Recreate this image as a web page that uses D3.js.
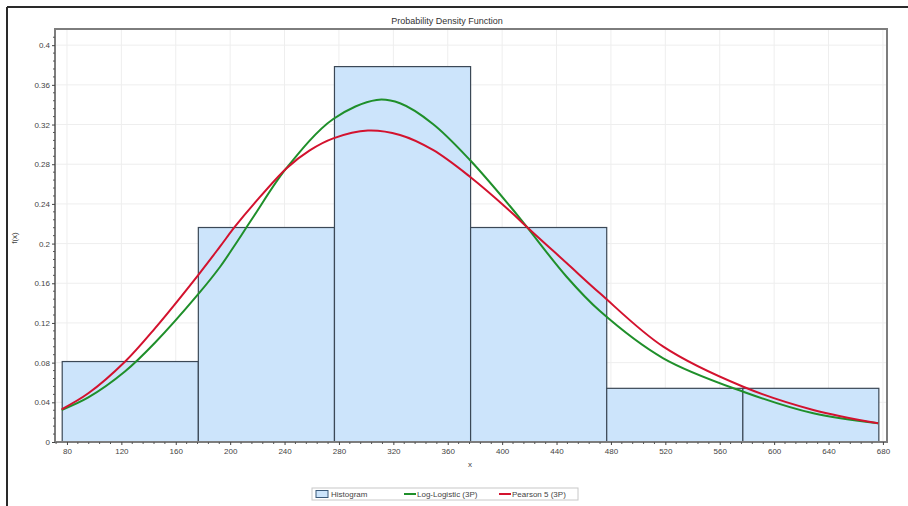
<!DOCTYPE html>
<html>
<head>
<meta charset="utf-8">
<script src="https://cdn.jsdelivr.net/npm/d3@7.9.0/dist/d3.min.js"></script>
<style>
  body { margin: 0; background: #fff; }
  svg { display: block; font-family: "Liberation Sans", Arial, sans-serif; }
</style>
</head>
<body>
<svg id="chart" width="908" height="506"></svg>
<script>
// histogram bins (relative frequency per bin)
const binEdges = [76.5, 176.6, 276.7, 376.8, 476.9, 577.0, 677.0];
const binFreq = [0.0811, 0.2162, 0.3784, 0.2162, 0.0541, 0.0541];

// fitted curves
const logLogX = [76.1, 95.7, 122.6, 144.7, 176.5, 192.5, 203.5, 217.5, 241.5, 275.8, 307.7, 324.9, 349.1, 376.3, 405.7, 418.0, 447.4, 471.9, 518.5, 577.3, 628.8, 676.5];
const logLogY = [0.0323, 0.0449, 0.0710, 0.1000, 0.1490, 0.1764, 0.1986, 0.2278, 0.2762, 0.3256, 0.3448, 0.3414, 0.3206, 0.2843, 0.2379, 0.2170, 0.1666, 0.1320, 0.0844, 0.0507, 0.0289, 0.0189];
const pearsonX = [76.1, 95.7, 122.6, 144.7, 176.5, 192.5, 203.5, 217.5, 241.5, 258.5, 275.8, 301.3, 324.9, 349.1, 376.3, 405.7, 418.0, 447.4, 471.9, 518.5, 577.3, 628.8, 676.5];
const pearsonY = [0.0330, 0.0491, 0.0809, 0.1146, 0.1683, 0.1969, 0.2170, 0.2400, 0.2760, 0.2940, 0.3061, 0.3140, 0.3095, 0.2944, 0.2674, 0.2329, 0.2170, 0.1804, 0.1499, 0.0961, 0.0557, 0.0323, 0.0189];

const xTicks = d3.range(80, 681, 40);
const yTicks = [0, 0.04, 0.08, 0.12, 0.16, 0.2, 0.24, 0.28, 0.32, 0.36, 0.4];
const yTickLabels = ["0", "0.04", "0.08", "0.12", "0.16", "0.2", "0.24", "0.28", "0.32", "0.36", "0.4"];

const svg = d3.select("#chart");
const plot = { left: 55, top: 29, right: 887, bottom: 442 };

const x = d3.scaleLinear().domain([71.2, 683]).range([plot.left, plot.right]);
const y = d3.scaleLinear().domain([0, 0.4163]).range([plot.bottom, plot.top]);

// outer frame (top + left edges visible)
svg.append("line").attr("x1", 7).attr("x2", 908).attr("y1", 7).attr("y2", 7)
  .attr("stroke", "#2a2a2a").attr("stroke-width", 2);
svg.append("line").attr("x1", 7).attr("x2", 7).attr("y1", 7).attr("y2", 506)
  .attr("stroke", "#2a2a2a").attr("stroke-width", 2);

// title
svg.append("text").attr("x", 447).attr("y", 24).attr("text-anchor", "middle")
  .attr("font-size", 9).attr("fill", "#333").text("Probability Density Function");

// grid
const grid = svg.append("g");
grid.selectAll(".gx").data(xTicks).join("line")
  .attr("x1", d => x(d)).attr("x2", d => x(d))
  .attr("y1", plot.top).attr("y2", plot.bottom)
  .attr("stroke", "#eeeeee").attr("stroke-width", 1);
grid.selectAll(".gy").data(yTicks).join("line")
  .attr("x1", plot.left).attr("x2", plot.right)
  .attr("y1", d => y(d)).attr("y2", d => y(d))
  .attr("stroke", "#eeeeee").attr("stroke-width", 1);

// histogram bars
svg.append("g").selectAll("rect").data(binFreq).join("rect")
  .attr("x", (d, i) => x(binEdges[i]))
  .attr("width", (d, i) => x(binEdges[i + 1]) - x(binEdges[i]))
  .attr("y", d => y(d))
  .attr("height", d => y(0) - y(d))
  .attr("fill", "#cce4fb")
  .attr("stroke", "#3b4856")
  .attr("stroke-width", 1.2);

// curves
const line = d3.line().x(d => x(d[0])).y(d => y(d[1])).curve(d3.curveCatmullRom.alpha(0.5));
svg.append("path").datum(logLogX.map((v, i) => [v, logLogY[i]]))
  .attr("d", line).attr("fill", "none").attr("stroke", "#1f8f2a").attr("stroke-width", 2);
svg.append("path").datum(pearsonX.map((v, i) => [v, pearsonY[i]]))
  .attr("d", line).attr("fill", "none").attr("stroke", "#d3122e").attr("stroke-width", 2);

// plot border
svg.append("rect").attr("x", plot.left).attr("y", plot.top)
  .attr("width", plot.right - plot.left).attr("height", plot.bottom - plot.top)
  .attr("fill", "none").attr("stroke", "#7d7d7d").attr("stroke-width", 2);

// axes
const xAxis = d3.axisBottom(x).tickValues(xTicks).tickSize(3).tickPadding(3).tickFormat(d3.format("d"));
const gx = svg.append("g").attr("transform", `translate(0,${plot.bottom})`).call(xAxis);
const yAxis = d3.axisLeft(y).tickValues(yTicks).tickSize(3).tickPadding(2)
  .tickFormat((d, i) => yTickLabels[i]);
const gy = svg.append("g").attr("transform", `translate(${plot.left},0)`).call(yAxis);
[gx, gy].forEach(g => {
  g.select(".domain").remove();
  g.selectAll("line").attr("stroke", "#444");
  g.selectAll("text").attr("font-size", 8).attr("fill", "#444")
    .attr("font-family", "Liberation Sans, Arial, sans-serif");
});

// minor ticks
const xMinor = d3.range(72, 684, 8).filter(v => !xTicks.includes(v));
svg.append("g").selectAll("line").data(xMinor).join("line")
  .attr("x1", d => x(d)).attr("x2", d => x(d))
  .attr("y1", plot.bottom).attr("y2", plot.bottom + 2)
  .attr("stroke", "#555");
const yMinor = d3.range(0, 0.416, 0.008).filter(v => Math.abs(v / 0.04 - Math.round(v / 0.04)) > 0.01);
svg.append("g").selectAll("line").data(yMinor).join("line")
  .attr("x1", plot.left - 2).attr("x2", plot.left)
  .attr("y1", d => y(d)).attr("y2", d => y(d))
  .attr("stroke", "#555");

// axis titles
svg.append("text").attr("x", 470).attr("y", 467).attr("text-anchor", "middle")
  .attr("font-size", 8).attr("fill", "#444").text("x");
svg.append("text").attr("transform", "translate(17,238) rotate(-90)").attr("text-anchor", "middle")
  .attr("font-size", 8).attr("fill", "#444").text("f(x)");

// legend
const lg = svg.append("g");
lg.append("rect").attr("x", 312).attr("y", 488).attr("width", 266).attr("height", 12)
  .attr("fill", "#fff").attr("stroke", "#c8c8c8");
lg.append("rect").attr("x", 316).attr("y", 490.5).attr("width", 12).attr("height", 7)
  .attr("fill", "#cce4fb").attr("stroke", "#3b5a7a");
lg.append("text").attr("x", 331).attr("y", 497).attr("font-size", 8).attr("fill", "#444").text("Histogram");
lg.append("line").attr("x1", 404).attr("x2", 416).attr("y1", 494).attr("y2", 494)
  .attr("stroke", "#1f8f2a").attr("stroke-width", 2);
lg.append("text").attr("x", 417).attr("y", 497).attr("font-size", 8).attr("fill", "#444").text("Log-Logistic (3P)");
lg.append("line").attr("x1", 499).attr("x2", 511).attr("y1", 494).attr("y2", 494)
  .attr("stroke", "#d3122e").attr("stroke-width", 2);
lg.append("text").attr("x", 512).attr("y", 497).attr("font-size", 8).attr("fill", "#444").text("Pearson 5 (3P)");
</script>
</body>
</html>
